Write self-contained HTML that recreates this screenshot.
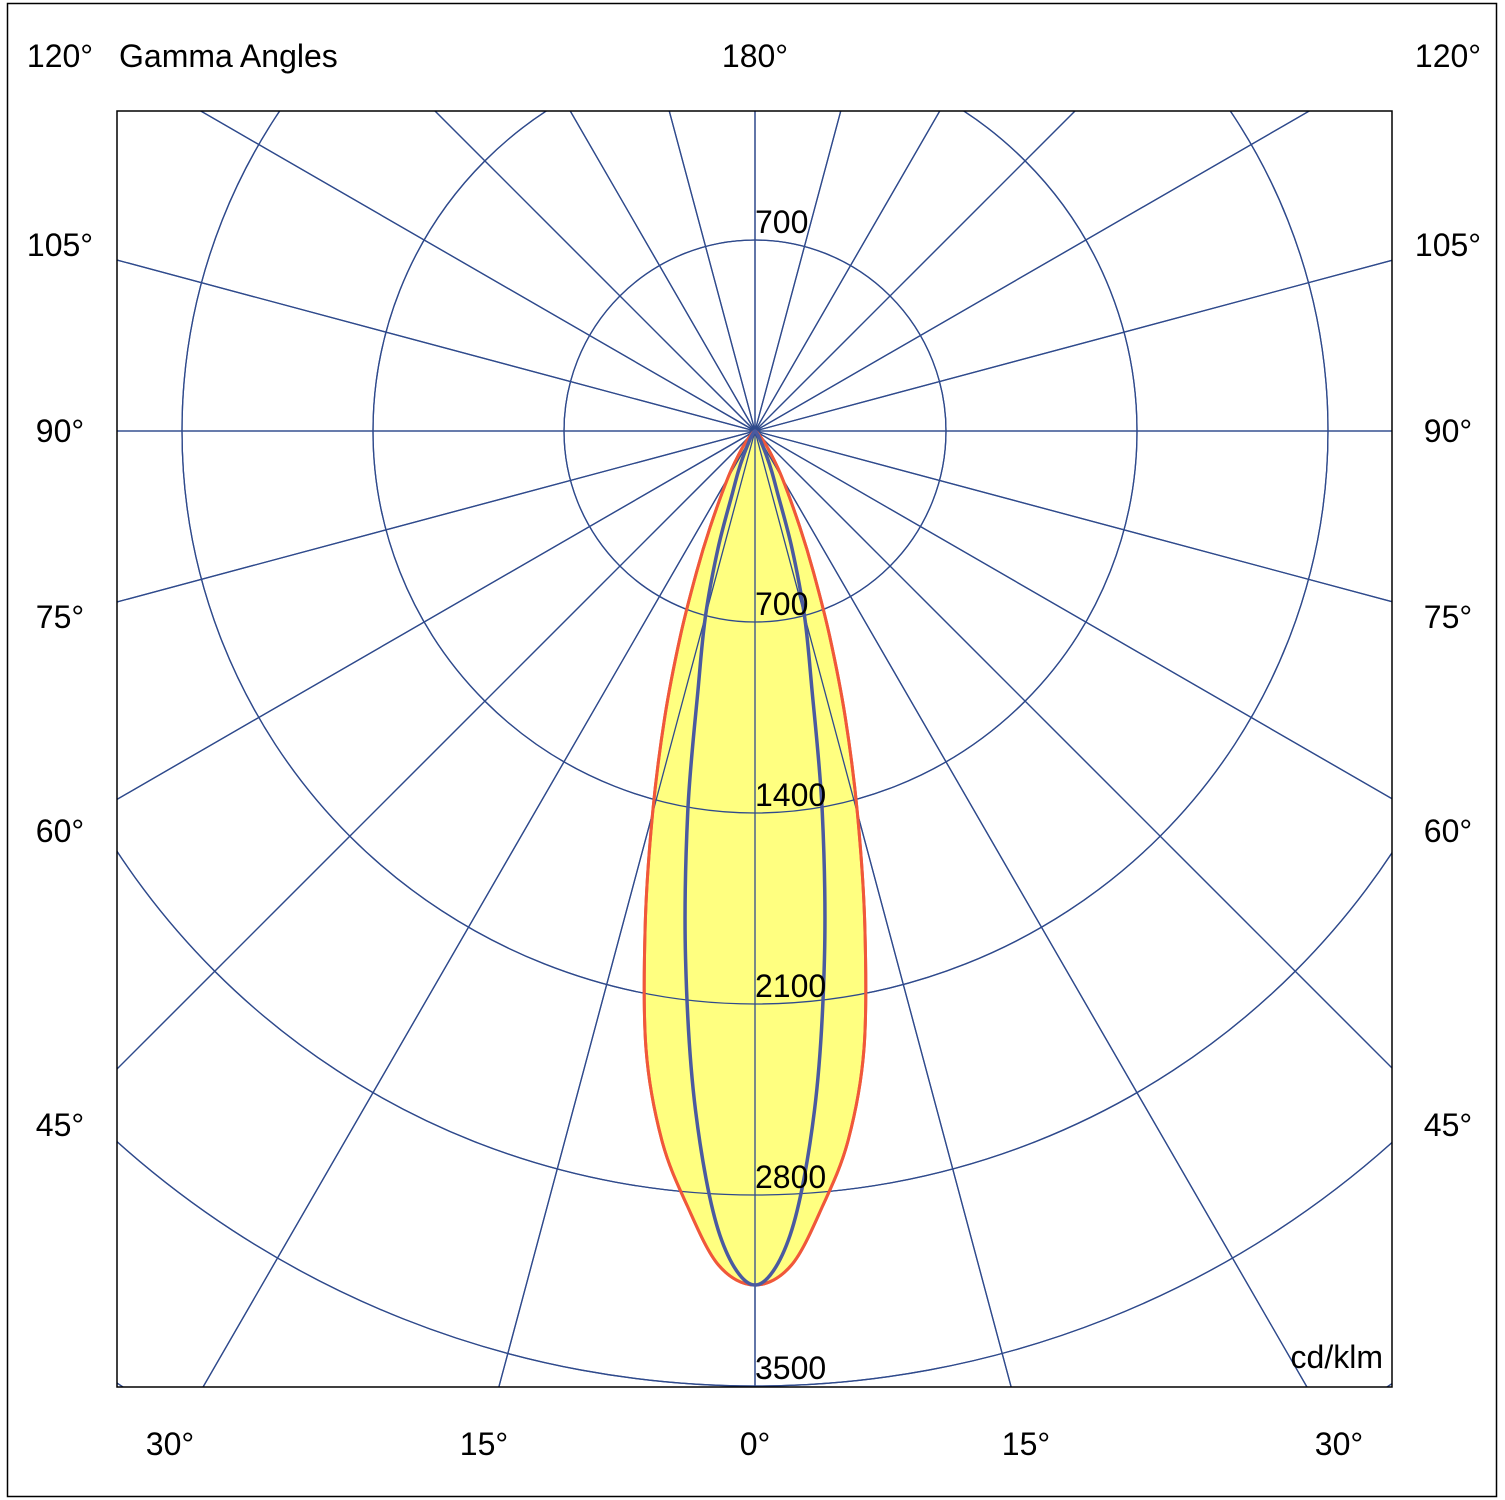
<!DOCTYPE html>
<html><head><meta charset="utf-8"><style>
html,body{margin:0;background:#fff;overflow:hidden;width:1505px;height:1500px}
svg{display:block;font-family:"Liberation Sans",Arial,sans-serif}
</style></head><body>
<svg id="chart" width="1505" height="1500" viewBox="0 0 1505 1500" xmlns="http://www.w3.org/2000/svg">
<rect x="7.5" y="3.5" width="1489" height="1493" fill="#fff" stroke="#000" stroke-width="1.5"/>
<defs><clipPath id="plotclip"><rect x="117" y="111" width="1275" height="1276"/></clipPath></defs>
<g id="grid" clip-path="url(#plotclip)"></g>
<g id="curves"></g>
<rect x="117" y="111" width="1275" height="1276" fill="none" stroke="#000" stroke-width="1.5"/>
<g id="labels" font-size="32" fill="#000"></g>
</svg>
<script>
const gammaAngles = [0, 2.5, 5, 7.5, 10, 12.5, 15, 17.5, 20, 22.5, 25, 30, 35, 40, 50, 60, 90];
const redValues   = [3130, 3060, 2850, 2620, 2300, 1860, 1450, 1100, 800, 560, 390, 200, 100, 50, 15, 5, 0];
const blueValues  = [3130, 2950, 2500, 1950, 1420, 960, 700, 450, 240, 160, 100, 40, 20, 10, 4, 1, 0];
const ringValues = [700, 1400, 2100, 2800, 3500, 4200, 4900];
const ringLabels = ["700", "1400", "2100", "2800", "3500"];
const spokeAngles = [0,15,30,45,60,75,90,105,120,135,150,165,180,195,210,225,240,255,270,285,300,315,330,345];

const NS = "http://www.w3.org/2000/svg";
const cx = 755, cy = 431, scale = 191/700;
const gridColor = "#2f4a8c";
function rr(v){ return v*scale; }
function pt(gDeg, v, side){ const g=gDeg*Math.PI/180, r=rr(v); return [cx+side*r*Math.sin(g), cy+r*Math.cos(g)]; }
function mk(tag, attrs, parent){ const e=document.createElementNS(NS,tag); for(const k in attrs) e.setAttribute(k,attrs[k]); parent.appendChild(e); return e; }

const grid = document.getElementById('grid');
ringValues.forEach(v=>{
  const c = mk('circle',{cx:cx,cy:cy,r:rr(v),fill:'none',stroke:gridColor,'stroke-width':1.3},grid);
  
  
});
spokeAngles.forEach(a=>{
  const t=a*Math.PI/180;
  const l = mk('line',{x1:cx,y1:cy,x2:cx+1300*Math.sin(t),y2:cy+1300*Math.cos(t),stroke:gridColor,'stroke-width':1.3},grid);
  
  
});

function curvePoints(vals){
  const pts=[];
  for(let i=vals.length-1;i>=0;i--) pts.push(pt(gammaAngles[i],vals[i],-1));
  for(let i=1;i<vals.length;i++) pts.push(pt(gammaAngles[i],vals[i],1));
  return pts;
}
function smoothPath(p){
  let d='M'+p[0][0]+','+p[0][1];
  for(let i=0;i<p.length-1;i++){
    const p0=p[Math.max(0,i-1)],p1=p[i],p2=p[i+1],p3=p[Math.min(p.length-1,i+2)];
    const c1=[p1[0]+(p2[0]-p0[0])/6,p1[1]+(p2[1]-p0[1])/6];
    const c2=[p2[0]-(p3[0]-p1[0])/6,p2[1]-(p3[1]-p1[1])/6];
    d+=' C'+c1[0]+','+c1[1]+' '+c2[0]+','+c2[1]+' '+p2[0]+','+p2[1];
  }
  return d+'Z';
}
const curves=document.getElementById('curves');
const red = mk('path',{d:smoothPath(curvePoints(redValues)),fill:'#ffff80',stroke:'#f0583a','stroke-width':3},curves);


const overlay = grid.cloneNode(true);


overlay.setAttribute('clip-path','url(#plotclip)');
curves.appendChild(overlay);
const redLine = mk('path',{d:smoothPath(curvePoints(redValues)),fill:'none',stroke:'#f0583a','stroke-width':3},curves);


const blue = mk('path',{d:smoothPath(curvePoints(blueValues)),fill:'none',stroke:'#4a5aa0','stroke-width':3.5},curves);



const labels=document.getElementById('labels');
function txt(s,x,y,anchor,name){
  const t=mk('text',{x:x,y:y,'text-anchor':anchor||'start'},labels);
  t.textContent=s;
  
  
}
ringLabels.forEach((s,i)=>txt(s,755,cy+rr(ringValues[i])-7,'start','ring-label-'+s));
txt("700",755,233,'start','ring-label-top-700');
txt("120°",60,67,'middle','angle-label-120-left');
txt("Gamma Angles",119,67,'start','chart-title');
txt("180°",755,67,'middle','angle-label-180');
txt("120°",1448,67,'middle','angle-label-120-right');
[["105°",256],["90°",442],["75°",628],["60°",842],["45°",1136]].forEach(([s,y])=>{
  txt(s,60,y,'middle','angle-label-left-'+s);
  txt(s,1448,y,'middle','angle-label-right-'+s);
});
[["30°",170],["15°",484],["0°",755],["15°",1026],["30°",1339]].forEach(([s,x],i)=>txt(s,x,1455,'middle','angle-label-bottom-'+i));
txt("cd/klm",1383,1368,'end','unit-label');
</script>
</body></html>
